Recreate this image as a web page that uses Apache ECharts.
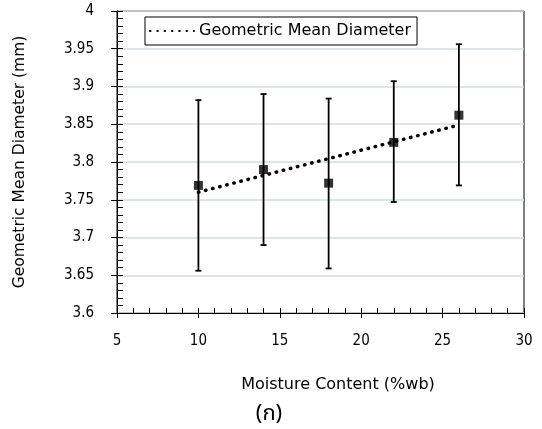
<!DOCTYPE html>
<html><head><meta charset="utf-8">
<script src="https://cdn.jsdelivr.net/npm/echarts@6/dist/echarts.min.js"></script>
<style>html,body{margin:0;padding:0;background:#fff}#c{width:542px;height:429px}</style>
</head><body><div id="c"></div>
<script>
const moisture = [10, 14, 18, 22, 26];
const gmdMean = [3.769, 3.790, 3.772, 3.826, 3.862];
const gmdLow  = [3.656, 3.690, 3.659, 3.747, 3.769];
const gmdHigh = [3.882, 3.890, 3.884, 3.907, 3.956];
const trendX = [10, 26];
const trendY = [3.760, 3.849];
const xTicks = [5, 10, 15, 20, 25, 30];
const yTicks = [3.6, 3.65, 3.7, 3.75, 3.8, 3.85, 3.9, 3.95, 4];

const FONT = 'DejaVu Sans';
const TICKFONT = '"DejaVu Sans Condensed", "DejaVu Sans"';
const chart = echarts.init(document.getElementById('c'));
const xBase = {type:'value', min:xTicks[0], max:xTicks[xTicks.length-1], interval:5, position:'bottom'};
const yBase = {type:'value', min:yTicks[0], max:yTicks[yTicks.length-1], interval:0.05, position:'left'};
chart.setOption({
  animation:false,
  grid:{left:117, top:11, right:18, bottom:116, show:true, borderColor:'#000', borderWidth:1, backgroundColor:'transparent'},
  legend:{
    data:['Geometric Mean Diameter'], left:145, top:17, orient:'horizontal',
    backgroundColor:'#fff', borderColor:'#000', borderWidth:1, padding:[6,6,6,4],
    itemWidth:44, itemHeight:12, itemGap:6,
    itemStyle:{opacity:0},
    textStyle:{fontFamily:FONT, fontSize:16, color:'#000'}
  },
  xAxis:[
    Object.assign({}, xBase, {
      name:'Moisture Content (%wb)', nameLocation:'middle', nameGap:64,
      nameTextStyle:{fontFamily:FONT, fontSize:16, color:'#000', padding:[0,0,0,35]},
      axisLine:{show:true, onZero:false, lineStyle:{color:'#000', width:1}},
      axisTick:{show:true, inside:true, length:5, lineStyle:{color:'#000'}},
      minorTick:{show:true, splitNumber:5, length:5, lineStyle:{color:'#000'}},
      axisLabel:{margin:21, fontFamily:TICKFONT, fontSize:15, color:'#000'},
      splitLine:{show:false}
    }),
    Object.assign({}, xBase, {
      axisLine:{show:false}, axisLabel:{show:false}, splitLine:{show:false},
      axisTick:{show:true, inside:false, length:5, lineStyle:{color:'#000'}}
    })
  ],
  yAxis:[
    Object.assign({}, yBase, {
      name:'Geometric Mean Diameter (mm)', nameLocation:'middle', nameGap:89,
      nameTextStyle:{fontFamily:FONT, fontSize:15.5, color:'#000'},
      axisLine:{show:true, onZero:false, lineStyle:{color:'#000', width:1}},
      axisTick:{show:true, inside:true, length:6, lineStyle:{color:'#000'}},
      minorTick:{show:true, splitNumber:5, length:6, lineStyle:{color:'#000'}},
      axisLabel:{margin:23, fontFamily:TICKFONT, fontSize:15, color:'#000',
        formatter: v => String(+v.toFixed(2))},
      splitLine:{show:true, lineStyle:{color:'#cfdcee', width:1.5}}
    }),
    Object.assign({}, yBase, {
      axisLine:{show:false}, axisLabel:{show:false}, splitLine:{show:false},
      axisTick:{show:true, inside:false, length:6, lineStyle:{color:'#000'}}
    })
  ],
  series:[
    {
      type:'custom', name:'err', xAxisIndex:0, yAxisIndex:0, silent:true,
      data: moisture.map((x,i)=>[x, gmdLow[i], gmdHigh[i]]),
      encode:{x:0, y:[1,2]},
      renderItem:(params, api)=>{
        const lo = api.coord([api.value(0), api.value(1)]);
        const hi = api.coord([api.value(0), api.value(2)]);
        const w = 3;
        const st = {stroke:'#000', lineWidth:1.8};
        return {type:'group', children:[
          {type:'line', shape:{x1:lo[0], y1:lo[1], x2:hi[0], y2:hi[1]}, style:st},
          {type:'line', shape:{x1:lo[0]-w, y1:lo[1], x2:lo[0]+w, y2:lo[1]}, style:st},
          {type:'line', shape:{x1:hi[0]-w, y1:hi[1], x2:hi[0]+w, y2:hi[1]}, style:st}
        ]};
      },
      z:2
    },
    {
      type:'line', name:'Geometric Mean Diameter', xAxisIndex:0, yAxisIndex:0,
      data: trendX.map((x,i)=>[x, trendY[i]]),
      symbol:'none', showSymbol:false,
      lineStyle:{color:'#000', width:3.5, type:[0.5,6.8], cap:'round'},
      itemStyle:{color:'#000'},
      z:3
    },
    {
      type:'scatter', name:'mean', xAxisIndex:0, yAxisIndex:0,
      data: moisture.map((x,i)=>[x, gmdMean[i]]),
      symbol:'rect', symbolSize:9, itemStyle:{color:'#000'}, z:4
    }
  ],
  graphic:[
    {type:'text', x:269, y:416, style:{text:'(ก)', fontSize:22, fill:'#000', align:'center', verticalAlign:'middle',
      fontFamily:'Noto Sans Thai, Noto Sans, DejaVu Sans, sans-serif'}}
  ]
});
</script></body></html>
